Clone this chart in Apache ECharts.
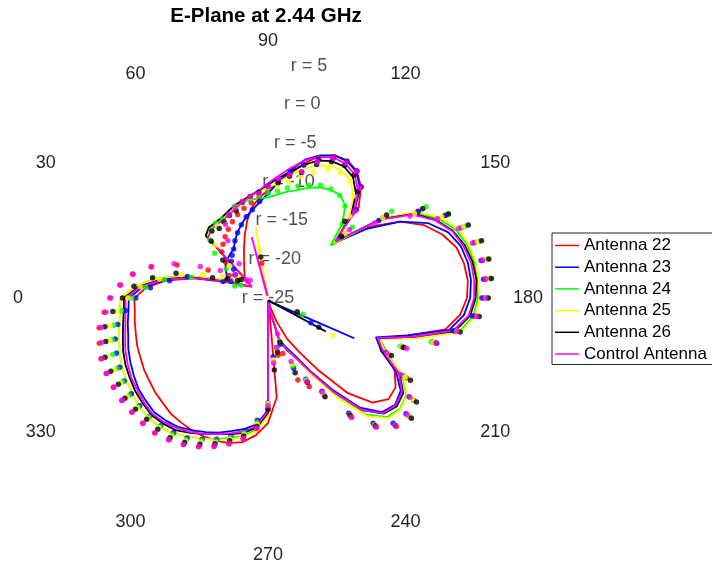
<!DOCTYPE html>
<html>
<head>
<meta charset="utf-8">
<script src="https://cdn.jsdelivr.net/npm/echarts@6/dist/echarts.min.js"></script>
<style>
  html, body { margin: 0; padding: 0; background: #ffffff; }
  #chart { width: 712px; height: 567px; }
</style>
</head>
<body>
<div id="chart"></div>
<script>
// Measurement angles in degrees (0 = left, increasing clockwise, 90 = top)
const angles = [0,5,10,15,20,25,30,35,40,45,50,55,60,65,70,75,80,85,90,95,100,105,110,115,120,125,130,135,140,145,150,155,160,165,170,175,180,185,190,195,200,205,210,215,220,225,230,235,240,245,250,255,260,265,270,275,280,285,290,295,300,305,310,315,320,325,330,335,340,345,350,355];

const seriesNames = ['Antenna 22', 'Antenna 23', 'Antenna 24', 'Antenna 25', 'Antenna 26', 'Control Antenna'];
const seriesColors = ['#ff0000', '#0000ff', '#00ff00', '#ffff00', '#000000', '#ff00ff'];

// Gain in dB, one value per angle (solid traces)
const ant22Line = [-8.0,-9.5,-12.0,-15.3,-18.9,-20.9,-21.9,-21.7,-21.2,-20.8,-20.3,-19.7,-18.9,-17.8,-16.4,-14.8,-13.3,-12.2,-11.3,-10.3,-9.0,-7.3,-5.8,-5.0,-4.8,-5.3,-6.6,-8.7,-14.4,-9.2,-5.6,-3.1,-1.4,-0.2,0.3,0.5,0.3,-0.5,-2.1,-6.6,-10.1,-8.1,-6.4,-5.2,-5.0,-6.2,-9.2,-13.7,-17.1,-19.3,-21.8,-23.7,-24.6,-12.3,-9.1,-7.5,-6.4,-5.9,-5.7,-5.6,-5.6,-5.7,-5.8,-6.1,-6.3,-6.6,-6.8,-7.1,-7.3,-7.6,-7.8,-8.0];
const ant23Line = [-7.3,-9.0,-11.8,-15.1,-18.4,-19.3,-18.9,-18.4,-18.0,-17.8,-17.6,-17.4,-16.6,-15.8,-15.1,-14.3,-13.6,-12.8,-11.7,-10.3,-8.5,-6.8,-5.7,-5.0,-4.9,-5.4,-6.8,-9.5,-14.2,-9.7,-5.6,-2.5,-0.6,0.4,0.8,0.9,0.7,0.0,-1.6,-6.6,-10.4,-9.1,-6.2,-4.4,-3.9,-4.5,-6.8,-10.8,-14.3,-16.9,-18.4,-19.5,-23.2,-24.7,-10.8,-8.9,-8.1,-7.5,-6.8,-6.2,-5.6,-5.0,-4.7,-4.5,-4.7,-4.9,-5.3,-5.7,-6.1,-6.6,-6.9,-7.2];
const ant24Line = [-6.3,-8.0,-10.6,-14.2,-17.9,-20.4,-21.7,-22.3,-21.2,-13.8,-13.4,-13.4,-13.4,-13.2,-12.8,-12.4,-12.3,-12.3,-12.2,-11.8,-11.3,-10.8,-10.1,-9.5,-9.1,-9.0,-9.7,-11.7,-14.6,-7.5,-3.4,-1.1,0.4,1.2,1.6,1.7,1.7,1.2,-0.3,-5.3,-9.9,-8.3,-5.3,-3.5,-3.1,-3.6,-5.7,-9.7,-13.8,-16.5,-18.1,-19.4,-23.2,-24.7,-10.1,-8.2,-7.2,-6.6,-5.9,-5.3,-4.7,-4.0,-3.6,-3.5,-3.6,-3.9,-4.2,-4.5,-4.9,-5.4,-5.8,-6.1];
const ant25Line = [-6.3,-8.0,-10.8,-14.3,-18.0,-20.4,-21.7,-22.2,-20.9,-13.7,-13.3,-13.3,-13.3,-13.2,-12.8,-12.4,-12.0,-11.5,-11.0,-10.3,-9.2,-8.1,-7.1,-6.4,-6.3,-6.7,-8.1,-10.5,-14.1,-7.2,-3.1,-0.85,0.7,1.4,1.8,1.9,1.9,1.4,-0.1,-5.3,-10.0,-8.5,-5.2,-3.4,-3.0,-3.4,-5.4,-9.5,-13.6,-16.4,-18.0,-19.3,-23.2,-24.7,-10.0,-8.0,-7.1,-6.4,-5.8,-5.3,-4.7,-4.0,-3.6,-3.5,-3.6,-3.9,-4.2,-4.5,-4.9,-5.4,-5.8,-6.1];
const ant26Line = [-6.7,-8.5,-11.3,-14.8,-18.6,-20.8,-21.9,-22.5,-21.2,-13.8,-13.3,-13.3,-13.2,-12.9,-12.5,-12.2,-11.8,-11.3,-10.6,-9.7,-8.7,-7.5,-6.4,-5.8,-5.7,-6.2,-7.6,-10.0,-13.8,-7.5,-3.6,-1.5,0.0,0.9,1.4,1.6,1.4,0.8,-0.85,-5.9,-10.1,-9.1,-5.7,-4.0,-3.6,-4.2,-6.4,-10.4,-14.2,-16.7,-18.0,-19.3,-23.1,-24.7,-10.4,-8.5,-7.6,-7.1,-6.6,-5.9,-5.2,-4.5,-4.2,-4.0,-4.2,-4.4,-4.7,-5.0,-5.4,-5.9,-6.3,-6.6];
const controlLine = [-6.9,-8.7,-11.5,-15.1,-18.6,-20.8,-21.9,-22.5,-21.4,-14.2,-13.7,-13.6,-13.6,-13.3,-12.9,-12.4,-11.9,-11.3,-10.4,-9.4,-8.2,-6.9,-5.9,-5.3,-5.3,-5.8,-7.2,-9.6,-13.8,-7.6,-3.8,-1.6,-0.1,0.7,1.2,1.3,1.2,0.6,-1.1,-5.9,-10.2,-8.8,-5.8,-4.2,-3.8,-4.3,-6.4,-10.4,-14.1,-16.6,-18.0,-19.3,-23.1,-24.7,-10.6,-8.7,-7.8,-7.2,-6.6,-5.9,-5.3,-4.8,-4.4,-4.2,-4.4,-4.7,-4.9,-5.3,-5.7,-6.2,-6.6,-6.8];

// Short excursions out of the nulls: [angle, dB] pairs in drawing order
const ant23Spike = [[250, -24.6], [205, -12.9], [262, -24.6]];
const ant25Spike = [[70, -24.7], [80, -15.8], [88, -24.7]];
const ant26Spike = [[255, -24.7], [210, -16.5], [262, -24.7]];
const controlSpike = [[68, -24.7], [75, -17.0], [84, -24.7]];

// Gain in dB, one value per angle (point samples)
const ant22Dots = [-4.9,-6.1,-7.5,-9.6,-12.7,-16.6,-19.3,-19.9,-18.0,-16.7,-16.1,-15.5,-14.9,-14.3,-13.7,-13.2,-12.7,-12.0,-11.1,-10.0,-9.0,-7.5,-6.1,-5.2,-4.9,-5.3,-6.6,-9.1,-12.3,-7.2,-3.0,-0.15,1.2,2.2,2.7,2.8,2.5,1.4,-0.85,-3.1,-6.6,-8.1,-4.7,-2.4,-1.5,-1.9,-3.6,-6.5,-10.8,-12.6,-13.9,-17.7,-17.6,-17.1,-11.0,-8.35,-6.8,-5.8,-4.9,-4.15,-3.5,-3.0,-2.6,-2.5,-2.4,-2.3,-2.3,-2.3,-2.4,-2.8,-3.2,-4.1];
const ant23Dots = [-8.2,-10.0,-12.3,-14.4,-18.9,-19.9,-20.55,-19.9,-19.3,-18.4,-17.9,-17.4,-16.6,-15.85,-15.1,-14.3,-13.6,-12.7,-11.65,-10.0,-8.7,-7.5,-6.3,-5.4,-5.0,-5.3,-6.6,-9.2,-12.9,-7.8,-2.95,-0.15,1.2,2.2,2.5,2.5,2.2,1.1,-1.1,-3.4,-6.95,-8.5,-5.15,-3.1,-2.1,-2.5,-4.2,-7.1,-11.3,-13.6,-15.5,-18.9,-18.6,-17.5,-11.65,-9.4,-7.8,-6.8,-5.9,-5.2,-4.45,-4.1,-3.8,-3.8,-3.7,-3.8,-3.9,-4.2,-4.5,-4.9,-5.6,-6.8];
const ant24Dots = [-7.7,-9.4,-11.6,-14.9,-20.5,-21.2,-20.55,-18.5,-16.15,-14.6,-13.8,-13.4,-13.4,-13.4,-12.6,-12.4,-12.2,-11.9,-11.65,-11.3,-10.8,-10.3,-9.75,-9.2,-9.0,-9.1,-9.75,-11.65,-11.0,-5.8,-1.8,0.3,1.7,2.8,3.35,3.35,2.8,1.8,-0.6,-3.5,-7.1,-8.2,-4.9,-2.6,-1.6,-2.1,-3.9,-6.8,-11.0,-13.5,-15.85,-19.3,-18.4,-17.1,-11.3,-9.1,-7.6,-6.6,-5.7,-5.0,-4.2,-3.8,-3.65,-3.6,-3.45,-3.45,-3.65,-3.8,-4.0,-4.5,-5.1,-6.3];
const ant25Dots = [-7.2,-8.7,-11.0,-13.6,-16.2,-18.6,-20.2,-20.5,-18.6,-15.5,-13.9,-13.8,-13.8,-13.3,-12.9,-12.5,-12.0,-11.65,-11.0,-10.8,-10.0,-9.0,-8.0,-6.95,-6.6,-6.8,-8.1,-10.3,-12.3,-7.2,-3.5,-0.6,1.35,2.5,3.1,3.1,2.7,1.7,-0.6,-3.3,-6.95,-8.1,-4.9,-2.6,-1.6,-2.1,-3.9,-6.8,-10.9,-13.4,-16.1,-19.3,-18.4,-17.1,-11.6,-8.9,-7.4,-6.4,-5.45,-4.8,-4.0,-3.6,-3.45,-3.4,-3.3,-3.1,-3.4,-3.4,-3.2,-4.2,-4.6,-5.8];
const ant26Dots = [-6.5,-7.9,-10.1,-12.9,-17.5,-19.3,-20.55,-20.9,-17.5,-14.8,-13.9,-14.2,-13.8,-13.4,-13.2,-12.4,-11.9,-11.5,-10.8,-10.3,-9.3,-8.5,-6.95,-5.9,-5.55,-5.9,-7.3,-11.2,-12.8,-6.6,-2.3,0.3,2.1,3.1,3.5,3.5,3.0,1.95,-0.2,-2.8,-6.7,-7.7,-4.1,-1.95,-1.2,-2.1,-3.8,-6.8,-10.5,-13.2,-14.9,-19.2,-18.0,-15.8,-10.8,-8.6,-7.2,-6.2,-5.3,-4.5,-3.8,-3.3,-3.2,-3.2,-3.0,-2.8,-3.05,-2.95,-2.95,-3.65,-3.95,-5.2];
const controlDots = [-5.0,-6.2,-7.6,-9.7,-12.3,-15.5,-18.0,-19.9,-21.4,-21.8,-19.3,-16.1,-14.2,-13.3,-12.8,-12.3,-11.9,-11.65,-10.8,-9.75,-9.1,-8.4,-6.6,-5.4,-5.2,-5.4,-6.8,-9.4,-11.5,-8.4,-4.15,-1.2,0.8,1.9,2.7,2.8,2.6,1.6,-0.6,-2.9,-6.25,-8.35,-5.6,-3.0,-1.9,-2.1,-3.6,-6.5,-11.2,-13.3,-16.4,-20.3,-18.6,-16.7,-11.3,-8.4,-6.9,-5.9,-5.0,-4.2,-3.5,-3.0,-2.65,-2.55,-2.45,-2.4,-2.4,-2.4,-2.55,-3.1,-3.45,-4.3];

// Repeated samples taken near the nulls: [angle, dB]
const ant22Extra = [[80, -20.5]];
const ant23Extra = [[210, -18.7]];
const ant24Extra = [[205, -20.1]];
const ant25Extra = [[210, -15.5], [80, -18.6]];
const ant26Extra = [[205, -20.9], [210, -17.55], [80, -19.7]];
const controlExtra = [];

// Axis labels
const angleTicks = [0, 30, 60, 90, 120, 150, 180, 210, 240, 270, 300, 330];
const radiusTicks = [5, 0, -5, -10, -15, -20, -25];

const lineSets = [ant22Line, ant23Line, ant24Line, ant25Line, ant26Line, controlLine];
const spikeSets = [[ant23Spike, 1], [ant25Spike, 3], [ant26Spike, 4], [controlSpike, 5]];
const dotSets = [ant22Dots, ant23Dots, ant24Dots, ant25Dots, ant26Dots, controlDots];
const extraSets = [ant22Extra, ant23Extra, ant24Extra, ant25Extra, ant26Extra, controlExtra];

const FONT = '"Liberation Sans", Arial, Helvetica, sans-serif';
const R_MIN = -25;           // centre of the plot
const R_MAX = 5;             // outer ring
const RADIAL_LABEL_ANGLE = 100;
const LINE_WIDTH = 1.8;

function closedTrace(values) {
  const d = values.map((v, i) => [v, angles[i]]);
  d.push([values[0], 360]);
  return d;
}

const series = [];

lineSets.forEach((vals, i) => {
  series.push({
    name: seriesNames[i],
    type: 'line',
    coordinateSystem: 'polar',
    data: closedTrace(vals),
    symbol: 'none',
    showSymbol: false,
    lineStyle: { color: seriesColors[i], width: LINE_WIDTH },
    itemStyle: { color: seriesColors[i] },
    z: 2
  });
});

spikeSets.forEach(([pts, i]) => {
  series.push({
    name: seriesNames[i] + ' (null)',
    type: 'line',
    coordinateSystem: 'polar',
    data: pts.map(p => [p[1], p[0]]),
    symbol: 'none',
    showSymbol: false,
    lineStyle: { color: seriesColors[i], width: LINE_WIDTH },
    itemStyle: { color: seriesColors[i] },
    z: 2
  });
});

dotSets.forEach((vals, i) => {
  const pts = vals.map((v, k) => [v, angles[k]])
    .concat(extraSets[i].map(p => [p[1], p[0]]));
  series.push({
    name: seriesNames[i] + ' (samples)',
    type: 'scatter',
    coordinateSystem: 'polar',
    data: pts,
    symbol: 'circle',
    symbolSize: 5.5,
    itemStyle: { color: seriesColors[i] },
    z: 3
  });
});

// Radial tick labels along a spoke just right of the top
series.push({
  type: 'scatter',
  coordinateSystem: 'polar',
  silent: true,
  symbolSize: 1,
  itemStyle: { color: 'rgba(0,0,0,0)' },
  data: radiusTicks.map(r => [r, RADIAL_LABEL_ANGLE]),
  label: {
    show: true, position: 'inside',
    formatter: p => 'r = ' + p.value[0],
    color: '#262626', fontSize: 18, fontFamily: FONT
  },
  z: 1
});

const chart = echarts.init(document.getElementById('chart'), null, { renderer: 'canvas' });
chart.setOption({
  animation: false,
  backgroundColor: '#ffffff',
  title: {
    text: 'E-Plane at 2.44 GHz',
    left: 266, top: 6, padding: 0,
    textAlign: 'center',
    textStyle: { fontFamily: FONT, fontWeight: 'bold', fontSize: 20.5, color: '#000000' }
  },
  legend: {
    data: seriesNames,
    orient: 'vertical',
    left: 552, top: 233,
    padding: [4, 6, 2, 3],
    icon: 'rect',
    itemWidth: 24, itemHeight: 1.5, itemGap: 4.7,
    backgroundColor: '#ffffff',
    borderColor: '#262626', borderWidth: 1,
    textStyle: { fontFamily: FONT, fontSize: 17, color: '#000000' }
  },
  polar: { center: [268, 298], radius: 236 },
  angleAxis: {
    type: 'value', min: 0, max: 360, interval: 30,
    startAngle: 180, clockwise: true,
    axisLine: { show: false },
    axisTick: { show: false },
    splitLine: { show: false },
    axisLabel: {
      show: true, margin: 9, lineHeight: 24,
      formatter: v => (angleTicks.indexOf(v) >= 0 ? String(v) : ''),
      color: '#262626', fontSize: 18, fontFamily: FONT
    }
  },
  radiusAxis: { type: 'value', min: R_MIN, max: R_MAX, show: false },
  series: series
});
</script>
</body>
</html>
